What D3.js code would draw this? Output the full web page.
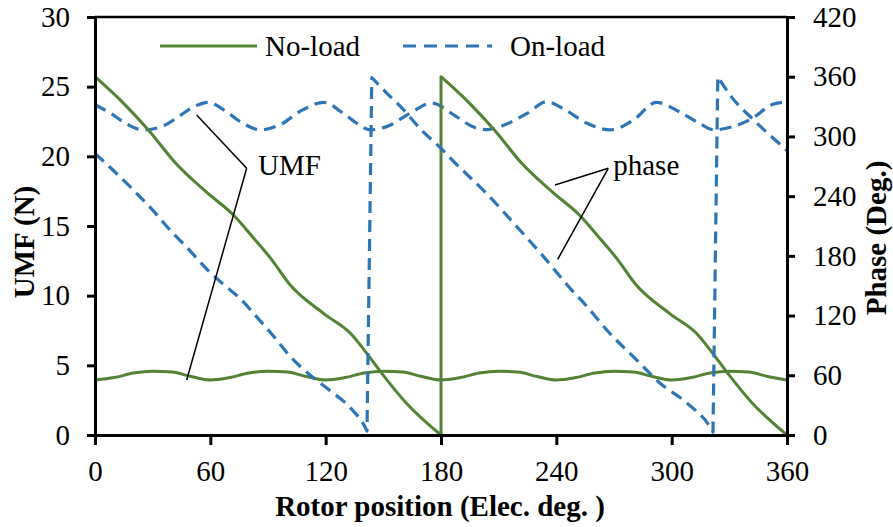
<!DOCTYPE html>
<html>
<head>
<meta charset="utf-8">
<script src="https://cdn.jsdelivr.net/npm/d3@7"></script>
<style>
  html, body { margin: 0; padding: 0; background: #fff; }
  svg text { font-family: "Liberation Serif", "Times New Roman", serif; fill: #000; }
</style>
</head>
<body>
<svg id="chart" width="893" height="527"></svg>
<script>
// Rotor position ticks and axis ticks
const xTicks = [0, 60, 120, 180, 240, 300, 360];
const umfTicks = [0, 5, 10, 15, 20, 25, 30];
const phaseTicks = [0, 60, 120, 180, 240, 300, 360, 420];

// UMF magnitude, no-load (N), sampled every 10 elec. deg
const umfNoLoadPos = [0, 10, 20, 30, 40, 50, 60, 70, 80, 90, 100, 110, 120, 130, 140, 150, 160, 170, 180,
  190, 200, 210, 220, 230, 240, 250, 260, 270, 280, 290, 300, 310, 320, 330, 340, 350, 360];
const umfNoLoad = [3.95, 4.12, 4.45, 4.58, 4.52, 4.2, 3.95, 4.12, 4.45, 4.58, 4.52, 4.2, 3.95, 4.12, 4.45, 4.58, 4.52, 4.2, 3.95,
  4.12, 4.45, 4.58, 4.52, 4.2, 3.95, 4.12, 4.45, 4.58, 4.52, 4.2, 3.95, 4.12, 4.45, 4.58, 4.52, 4.2, 3.95];

// UMF magnitude, on-load (N)
const umfOnLoad = [
  [0, 23.7], [8, 23.1], [15, 22.45], [25, 21.9], [35, 22.15], [45, 23.0], [52, 23.6], [59, 23.88],
  [67, 23.33], [76, 22.45], [86, 21.9], [96, 22.25], [108, 23.33], [119, 23.87], [129, 23.1], [137, 22.3],
  [143, 21.9], [152, 22.15], [164, 23.1], [175, 23.82], [188, 22.85], [197, 22.1], [204, 21.92], [212, 22.2],
  [225, 23.1], [235, 23.92], [245, 23.3], [256, 22.37], [268, 21.9], [280, 22.6], [292, 23.87], [304, 23.2],
  [314, 22.4], [322, 21.9], [331, 22.1], [341, 22.65], [353, 23.75], [360, 23.9]
];

// UMF phase, no-load (deg)
const phaseNoLoad = [
  [0, 360], [15, 333], [28, 306], [42, 273], [58, 244], [72, 221], [82, 199], [92, 176], [101, 152],
  [119, 122], [133, 102], [141, 83], [148, 65], [162, 32], [180, 0],
  [180, 360], [195, 333], [208, 306], [222, 273], [238, 244], [252, 221], [262, 199], [272, 176], [281, 152],
  [299, 122], [313, 102], [321, 83], [328, 65], [342, 32], [360, 0]
];

// UMF phase, on-load (deg)
const phaseOnLoad = [
  [0, 283], [18, 250], [30, 226], [39, 206], [49, 186], [58, 167], [67, 151], [75, 138], [84, 119],
  [93, 99], [101, 80], [112, 60], [122, 45], [133, 27], [140.5, 8], [141.5, 4],
  [144, 359], [147, 353], [152, 343], [159, 330], [170, 306], [180, 288], [186, 276], [204, 242], [221, 206],
  [233, 180], [246, 150], [256, 129], [266, 106], [282, 75], [294, 52], [308, 32], [320, 8], [321.5, 3],
  [324, 360], [331, 340], [343, 316], [360, 286]
];

const GREEN = "#548235";
const BLUE = "#2E75B6";
const FONT = 29;
const SERIF = "'Liberation Serif', 'Times New Roman', serif";

const svg = d3.select("#chart");
const x = d3.scaleLinear().domain([0, 360]).range([95, 787]);
const yL = d3.scaleLinear().domain([0, 30]).range([435, 17]);
const yR = d3.scaleLinear().domain([0, 420]).range([435, 17]);

// Smooth line through each monotone run; runs are joined by straight segments at the wrap-arounds
function wrappedPath(points, yScale) {
  const runs = [];
  let cur = [points[0]];
  for (let i = 1; i < points.length; i++) {
    const p = points[i], q = points[i - 1];
    if (p[1] - q[1] > 100 || p[0] <= q[0]) { runs.push(cur); cur = [p]; }
    else cur.push(p);
  }
  runs.push(cur);
  const line = d3.line().x(d => x(d[0])).y(d => yScale(d[1])).curve(d3.curveMonotoneX);
  return runs.map((r, i) => {
    const s = line(r);
    return i === 0 ? s : "L" + s.slice(1);
  }).join("");
}

const smooth = (yScale) => d3.line().x(d => x(d[0])).y(d => yScale(d[1])).curve(d3.curveMonotoneX);

// Plot frame top edge
svg.append("line")
  .attr("x1", x(0)).attr("x2", x(360)).attr("y1", yL(30)).attr("y2", yL(30))
  .attr("stroke", "#000").attr("stroke-width", 2.5);

// Series
const plot = svg.append("g").attr("fill", "none").attr("stroke-linejoin", "round");

plot.append("path")
  .attr("d", smooth(yL)(umfNoLoadPos.map((p, i) => [p, umfNoLoad[i]])))
  .attr("stroke", GREEN).attr("stroke-width", 3);

plot.append("path")
  .attr("d", smooth(yL)(umfOnLoad))
  .attr("stroke", BLUE).attr("stroke-width", 3.2).attr("stroke-dasharray", "12,7");

plot.append("path")
  .attr("d", wrappedPath(phaseNoLoad, yR))
  .attr("stroke", GREEN).attr("stroke-width", 3);

plot.append("path")
  .attr("d", wrappedPath(phaseOnLoad, yR))
  .attr("stroke", BLUE).attr("stroke-width", 3.2).attr("stroke-dasharray", "12,7");

// Axes
function styleAxis(g) {
  g.attr("font-family", SERIF);
  g.selectAll("path.domain").attr("stroke", "#000").attr("stroke-width", 3);
  g.selectAll(".tick line").attr("stroke", "#000").attr("stroke-width", 3);
  g.selectAll(".tick text").attr("font-size", FONT).attr("fill", "#000")
    .style("font-family", SERIF);
}

svg.append("g").attr("transform", `translate(0,${yL(0)})`)
  .call(d3.axisBottom(x).tickValues(xTicks).tickSize(10).tickSizeOuter(0).tickPadding(15))
  .call(styleAxis);

svg.append("g").attr("transform", `translate(${x(0)},0)`)
  .call(d3.axisLeft(yL).tickValues(umfTicks).tickSize(8).tickSizeOuter(0).tickPadding(17))
  .call(styleAxis);

svg.append("g").attr("transform", `translate(${x(360)},0)`)
  .call(d3.axisRight(yR).tickValues(phaseTicks).tickSize(8).tickSizeOuter(0).tickPadding(18))
  .call(styleAxis);

// Axis titles
svg.append("text")
  .attr("x", (x(0) + x(360)) / 2 - 1).attr("y", 516)
  .attr("text-anchor", "middle").attr("font-size", FONT).attr("font-weight", "bold")
  .style("font-family", SERIF)
  .text("Rotor position (Elec. deg. )");

svg.append("text")
  .attr("transform", `translate(34,${yL(15) + 16}) rotate(-90)`)
  .attr("text-anchor", "middle").attr("font-size", FONT).attr("font-weight", "bold")
  .style("font-family", SERIF)
  .text("UMF (N)");

svg.append("text")
  .attr("transform", `translate(886,${yL(15) + 12}) rotate(-90)`)
  .attr("text-anchor", "middle").attr("font-size", FONT).attr("font-weight", "bold")
  .style("font-family", SERIF)
  .text("Phase (Deg.)");

// Legend
const legend = svg.append("g").style("font-family", SERIF);
legend.append("line").attr("x1", 160).attr("x2", 257).attr("y1", 46).attr("y2", 46)
  .attr("stroke", GREEN).attr("stroke-width", 3);
legend.append("text").attr("x", 265).attr("y", 56).attr("font-size", FONT)
  .style("font-family", SERIF).text("No-load");
legend.append("line").attr("x1", 403).attr("x2", 492).attr("y1", 46).attr("y2", 46)
  .attr("stroke", BLUE).attr("stroke-width", 3.2).attr("stroke-dasharray", "13,8");
legend.append("text").attr("x", 510).attr("y", 56).attr("font-size", FONT)
  .style("font-family", SERIF).text("On-load");

// Callouts pointing at the magnitude and phase curves
const callouts = [
  { label: "UMF", at: [78.9, 19.14], text: [84.8, 18.66], scale: yL,
    targets: [[52.9, 22.97, yL], [47.7, 3.95, yL]] },
  { label: "phase", at: [267, 19.14], text: [269.6, 18.66], scale: yL,
    targets: [[239.3, 251.2, yR], [240.7, 176.5, yR]] }
];
callouts.forEach(c => {
  c.targets.forEach(t => {
    svg.append("line")
      .attr("x1", x(c.at[0])).attr("y1", c.scale(c.at[1]))
      .attr("x2", x(t[0])).attr("y2", t[2](t[1]))
      .attr("stroke", "#000").attr("stroke-width", 1.5);
  });
  svg.append("text").attr("x", x(c.text[0])).attr("y", c.scale(c.text[1]))
    .attr("font-size", FONT).style("font-family", SERIF).text(c.label);
});
</script>
</body>
</html>
